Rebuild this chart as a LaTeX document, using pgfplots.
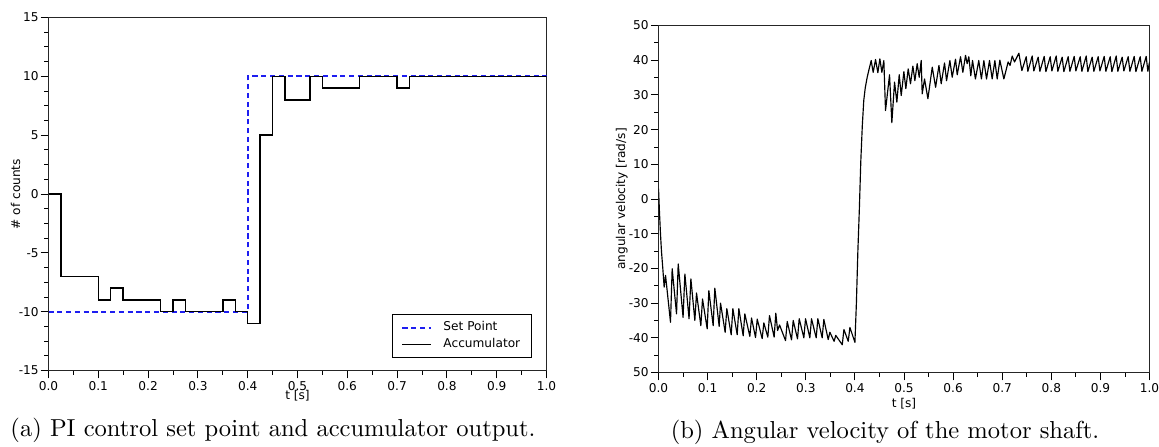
\documentclass[border=0pt]{standalone}
\usepackage{fontspec}
\usepackage{pgfplots}
\pgfplotsset{compat=1.18}
\newfontfamily\plotfont{DejaVu Sans}
\newcommand\pf{\plotfont\fontsize{4.7}{5.6}\selectfont}
\definecolor{spblue}{RGB}{30,30,240}
\pgfplotsset{
  myaxis/.style={
    scale only axis,
    axis line style={black!85, line width=0.4pt},
    tick style={black, line width=0.35pt},
    tick align=outside,
    xtick pos=bottom, ytick pos=left,
    major tick length=3pt, minor tick length=1.6pt,
    xmin=0, xmax=1,
    xtick={0,0.1,0.2,0.3,0.4,0.5,0.6,0.7,0.8,0.9,1.0},
    xticklabels={0.0,0.1,0.2,0.3,0.4,0.5,0.6,0.7,0.8,0.9,1.0},
    minor x tick num=1,
    ticklabel style={font=\pf},
    yticklabel style={inner sep=0.6pt},
    xticklabel style={inner sep=1pt},
    label style={font=\pf},
    xlabel={t [s]},
  }
}
\begin{document}
\begin{tikzpicture}
\path[use as bounding box] (0,0) rectangle (448.53pt,-172.60pt);
\begin{axis}[myaxis,
  at={(18.77pt,-143.38pt)}, anchor=south west,
  width=192.73pt, height=136.61pt,
  ymin=-15, ymax=15,
  ytick={-15,-10,-5,0,5,10,15},
  yticklabels={-15,-10,-5,0,5,10,15},
  minor y tick num=3,
  ylabel={\# of counts},
  xlabel style={at={(axis description cs:0.5,-0.071)}, anchor=center},
  ylabel style={at={(axis description cs:-0.066,0.5)}, anchor=center},
  legend style={font=\pf, at={(1,0)}, anchor=south east, xshift=-5.5pt, yshift=4.8pt,
    draw=black, line width=0.4pt, inner xsep=3.5pt, inner ysep=1.5pt, row sep=-0.6pt,
    nodes={inner sep=1pt}},
  legend cell align=left,
  legend image code/.code={\draw[#1] (0pt,0pt) -- (11pt,0pt);},
  legend style={/tikz/every odd column/.append style={column sep=3.5pt}},
]
\addplot[const plot, color=spblue, line width=0.75pt, dash pattern=on 2pt off 1.4pt] coordinates {
(0,-10) (0.4,10) (1.0,10)};
\addlegendentry{Set Point}
\addplot[const plot, black, line width=0.55pt] coordinates {
(0,0) (0.025,-7) (0.1,-9) (0.125,-8) (0.15,-9) (0.225,-10) (0.25,-9) (0.275,-10)
(0.35,-9) (0.375,-10) (0.4,-11) (0.425,5) (0.45,10) (0.475,8) (0.525,10) (0.55,9)
(0.625,10) (0.7,9) (0.725,10) (1.0,10)};
\addlegendentry{Accumulator}
\end{axis}
\begin{axis}[myaxis,
  at={(254.84pt,-144.16pt)}, anchor=south west,
  width=190.02pt, height=134.29pt,
  ymin=-50, ymax=50,
  ytick={-50,-40,-30,-20,-10,0,10,20,30,40,50},
  yticklabels={50,-40,-30,-20,-10,0,10,20,30,40,50},
  minor y tick num=1,
  ylabel={angular velocity [rad/s]},
  xlabel style={at={(axis description cs:0.5,-0.089)}, anchor=center},
  ylabel style={at={(axis description cs:-0.075,0.5)}, anchor=center},
]
\addplot[black, line width=0.45pt, line join=round] coordinates {
(0,3) (0.002,-4) (0.004,-10) (0.006,-15) (0.0088,-20.1) (0.0115,-25.4) (0.0143,-22.0)
(0.0244,-35.5) (0.0278,-20.1) (0.0367,-33.1) (0.0401,-18.7) (0.0500,-34.1) (0.0537,-21.6)
(0.0622,-34.5) (0.0659,-23.0) (0.0740,-35.0) (0.0774,-27.1) (0.0862,-36.5) (0.0896,-28.8)
(0.0991,-37.4) (0.1025,-26.4) (0.1113,-36.5) (0.1147,-25.7) (0.1235,-36.7) (0.1263,-30.0)
(0.1357,-38.4) (0.1391,-31.6) (0.1480,-39.1) (0.1514,-31.6) (0.1602,-39.1) (0.1636,-31.6)
(0.1724,-39.4) (0.1758,-33.1) (0.1860,-39.6) (0.1894,-34.3) (0.1976,-39.9) (0.2010,-34.6)
(0.2111,-40.2) (0.2145,-35.7) (0.2226,-39.8) (0.2260,-33.6) (0.2355,-39.8) (0.2389,-32.9)
(0.2425,-37.9) (0.2465,-36.3) (0.2587,-40.8) (0.2621,-35.3) (0.2709,-40.6) (0.2743,-35.0)
(0.2831,-40.3) (0.2865,-34.5) (0.2960,-40.0) (0.2994,-34.5) (0.3082,-40.0) (0.3116,-34.5)
(0.3211,-40.0) (0.3245,-34.5) (0.3333,-40.0) (0.3367,-34.7) (0.3456,-40.5) (0.3490,-38.4)
(0.3576,-41.0) (0.3610,-39.3) (0.3742,-42.0) (0.3776,-37.6) (0.3864,-41.0) (0.3898,-37.0)
(0.4000,-41.3) (0.4030,-30.0) (0.4060,-15.0) (0.4090,-3.0) (0.4120,11.0) (0.4150,21.0)
(0.4180,28.4) (0.4210,32.0) (0.4250,35.1) (0.4290,37.5) (0.4331,39.9) (0.4372,36.5)
(0.4420,40.2) (0.4467,36.4) (0.4508,40.4) (0.4549,36.5) (0.4589,39.9) (0.4623,25.5)
(0.4705,35.8) (0.4752,22.0) (0.4807,33.7) (0.4854,27.9) (0.4902,35.8) (0.4943,29.8)
(0.4997,36.7) (0.5037,31.8) (0.5085,37.5) (0.5132,33.2) (0.5180,38.3) (0.5221,34.1)
(0.5268,39.0) (0.5309,35.1) (0.5350,39.9) (0.5370,30.3) (0.5418,34.6) (0.5486,28.9)
(0.5575,38.0) (0.5643,32.2) (0.5711,38.5) (0.5757,33.2) (0.5825,39.2) (0.5866,34.1)
(0.5934,39.9) (0.5981,35.1) (0.6049,40.3) (0.6083,35.8) (0.6151,41.0) (0.6198,36.5)
(0.6253,41.4) (0.6285,39.0) (0.6320,41.0) (0.6360,35.5) (0.6395,39.9) (0.6454,34.6)
(0.6522,39.9) (0.6576,34.6) (0.6626,39.9) (0.6680,34.6) (0.6741,39.9) (0.6795,34.6)
(0.6850,39.9) (0.6897,34.6) (0.6952,40.0) (0.7033,34.6) (0.7120,39.5) (0.7160,38.5)
(0.7203,41.2) (0.7250,39.5) (0.7339,42.0) (0.7400,37.0) (0.7488,41.0) (0.7522,36.8)
(0.7610,41.2) (0.7644,36.9) (0.7732,40.9) (0.7767,36.8) (0.7855,41.1) (0.7889,36.7)
(0.7977,41.0) (0.8011,36.9) (0.8099,41.2) (0.8133,36.8) (0.8221,40.9) (0.8255,36.7)
(0.8343,41.0) (0.8378,36.8) (0.8466,41.1) (0.8500,36.9) (0.8588,41.0) (0.8622,36.8)
(0.8710,41.2) (0.8744,36.7) (0.8832,40.9) (0.8866,36.8) (0.8954,41.0) (0.8989,36.9)
(0.9077,41.1) (0.9111,36.8) (0.9199,41.0) (0.9233,36.7) (0.9321,41.2) (0.9355,36.8)
(0.9443,40.9) (0.9477,36.9) (0.9565,41.0) (0.9600,36.8) (0.9688,41.1) (0.9722,36.7)
(0.9810,41.0) (0.9844,36.8) (0.9932,41.1) (0.9966,36.8) (1.0000,39.5)};
\end{axis}
\node[anchor=center, font=\fontsize{9.5}{11}\selectfont] at (105.65pt,-166.4pt) {(a) PI control set point and accumulator output.};
\node[anchor=center, font=\fontsize{9.5}{11}\selectfont] at (342.5pt,-167.2pt) {(b) Angular velocity of the motor shaft.};
\end{tikzpicture}
\end{document}
